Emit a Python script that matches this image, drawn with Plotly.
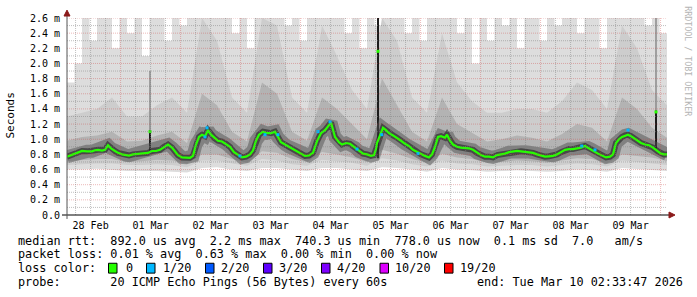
import pandas as pd
import plotly.graph_objects as go

START = pd.Timestamp("2026-02-28 02:33:47")
END = pd.Timestamp("2026-03-10 02:33:47")

# ---------------- data (ms) ----------------
median_hours = [0, 2, 3.2, 4.8, 6, 8, 10, 11.2, 12.4, 14, 15.2, 16.4, 17.6, 19.2, 20.4, 22, 23.6, 24.8, 26.4, 28,
                30, 31.6, 32.4, 34, 35.6, 37.2, 38.8, 40.4, 42, 43.2, 44.4, 46, 47.6, 49.2, 50.4, 51.6, 52.8, 54,
                55.2, 56.4, 57.6, 58.8, 60.4, 62, 63.6, 65.2, 66.8, 68.4, 70, 71.6, 73.2, 74.4, 75.6, 76.8, 78.4,
                80, 81.6, 83.2, 84.4, 85.6, 87.2, 88.8, 90.4, 92, 93.6, 95.2, 96.8, 98.4, 100, 101.6, 103.2, 104.8,
                105.6, 107.2, 108.8, 110, 111.6, 113.2, 115.2, 116.8, 118.4, 120, 121.6, 122.8, 123.6, 124, 125.2,
                126.4, 127.6, 128.8, 130.4, 132, 133.6, 135.2, 136.8, 138.4, 140, 141.6, 143.2, 144.8, 146, 147.2,
                148.4, 149.6, 151.2, 152, 153.2, 154.4, 156, 157.6, 159.2, 160.8, 162.4, 164, 165.6, 167.2, 168.8,
                170.4, 172, 173.6, 175.2, 176.8, 178.4, 180, 181.6, 183.2, 184.8, 186.4, 188, 189.6, 191.2, 192.8,
                194.4, 196, 197.6, 199.2, 200.8, 202.4, 204, 205.6, 207.2, 208.4, 209.6, 210.8, 212.4, 214, 215.6,
                217.2, 218.4, 219.6, 220.8, 222, 223.2, 224.4, 225.6, 226.8, 228, 229.6, 231.2, 232.8, 234.4, 236.4,
                237.6, 238.8, 240]
median_ms = [0.77, 0.79, 0.81, 0.83, 0.845, 0.84, 0.84, 0.855, 0.86, 0.85, 0.86, 0.92, 0.88, 0.845, 0.82, 0.80,
             0.79, 0.785, 0.80, 0.805, 0.81, 0.815, 0.82, 0.845, 0.845, 0.86, 0.90, 0.93, 0.89, 0.84, 0.79, 0.76,
             0.755, 0.755, 0.78, 0.93, 1.03, 1.06, 1.04, 1.12, 1.06, 1.02, 0.98, 0.97, 0.94, 0.90, 0.83, 0.79,
             0.76, 0.77, 0.80, 0.85, 0.98, 1.06, 1.10, 1.08, 1.08, 1.10, 1.02, 0.96, 0.93, 0.90, 0.87, 0.83, 0.80,
             0.78, 0.785, 0.82, 0.975, 1.08, 1.12, 1.18, 1.22, 1.03, 0.96, 0.93, 0.95, 0.94, 0.89, 0.84, 0.81,
             0.80, 0.78, 0.79, 0.87, 0.95, 1.06, 1.15, 1.12, 1.08, 1.05, 1.02, 0.98, 0.94, 0.91, 0.86, 0.83, 0.80,
             0.78, 0.76, 0.80, 0.90, 1.03, 1.04, 1.02, 1.06, 0.98, 0.93, 0.90, 0.89, 0.89, 0.88, 0.86, 0.82, 0.79,
             0.77, 0.77, 0.76, 0.79, 0.80, 0.81, 0.83, 0.84, 0.845, 0.84, 0.835, 0.83, 0.82, 0.80, 0.78, 0.77,
             0.775, 0.78, 0.80, 0.83, 0.86, 0.87, 0.87, 0.88, 0.89, 0.91, 0.89, 0.87, 0.84, 0.81, 0.78, 0.76, 0.77,
             0.80, 0.95, 1.00, 1.03, 1.05, 1.06, 1.04, 1.01, 0.98, 0.95, 0.93, 0.92, 0.89, 0.84, 0.81, 0.80, 0.80]

# single-column outliers (median dot + dark smoke column)
spike_hours = [33.2, 124.4, 235.6]
spike_median = [1.10, 2.16, 1.36]
spike_lo = [0.85, 0.75, 0.88]
spike_hi = [1.12, 2.70, 1.38]
# lighter upper part of the same columns
spike_top = [1.90, 2.70, 2.60]

# samples with 1/20 packet loss
loss1_hours = [55.2, 56.0, 69.2, 79.2, 84.4, 100.4, 105.2, 116.0, 125.9, 140.4, 205.9, 211.2, 224.4]
loss1_ms = [1.03, 1.15, 0.78, 1.06, 1.06, 1.10, 1.23, 0.87, 1.06, 0.81, 0.91, 0.86, 1.12]

# smoke (ping spread), sampled every 6 hours
smoke_min = [0.60, 0.60, 0.61, 0.60, 0.58, 0.58, 0.58, 0.57, 0.56, 0.62, 0.63, 0.60, 0.58, 0.62, 0.62, 0.60,
             0.58, 0.62, 0.62, 0.60, 0.58, 0.63, 0.62, 0.60, 0.57, 0.62, 0.60, 0.59, 0.57, 0.58, 0.59, 0.58,
             0.57, 0.58, 0.60, 0.59, 0.57, 0.62, 0.61, 0.60, 0.58]
smoke_lo2 = [0.66, 0.67, 0.68, 0.68, 0.66, 0.66, 0.67, 0.66, 0.63, 0.72, 0.72, 0.68, 0.65, 0.74, 0.72, 0.67,
             0.65, 0.73, 0.71, 0.69, 0.65, 0.75, 0.72, 0.67, 0.64, 0.72, 0.68, 0.67, 0.64, 0.65, 0.66, 0.66,
             0.64, 0.66, 0.68, 0.67, 0.64, 0.72, 0.70, 0.68, 0.66]
smoke_lo3 = [0.71, 0.73, 0.74, 0.74, 0.70, 0.71, 0.73, 0.72, 0.68, 0.80, 0.80, 0.74, 0.69, 0.84, 0.82, 0.74,
             0.70, 0.83, 0.80, 0.76, 0.70, 0.86, 0.81, 0.74, 0.69, 0.81, 0.76, 0.74, 0.69, 0.70, 0.72, 0.71,
             0.69, 0.72, 0.75, 0.74, 0.68, 0.80, 0.78, 0.76, 0.71]
smoke_hi3 = [0.98, 1.03, 1.05, 1.10, 0.97, 0.98, 1.05, 1.10, 0.95, 1.60, 1.45, 1.10, 0.97, 1.75, 1.60, 1.10,
             0.98, 1.55, 1.40, 1.20, 1.00, 1.80, 1.45, 1.10, 0.97, 1.55, 1.20, 1.08, 0.97, 1.00, 1.05, 1.02,
             0.97, 1.07, 1.20, 1.15, 0.97, 1.55, 1.40, 1.15, 1.02]
smoke_hi2 = [1.30, 1.35, 1.40, 1.55, 1.30, 1.30, 1.45, 1.55, 1.35, 2.60, 2.30, 1.55, 1.35, 2.60, 2.50, 1.55,
             1.35, 2.50, 2.10, 1.65, 1.40, 2.60, 2.30, 1.55, 1.35, 2.40, 1.75, 1.50, 1.35, 1.35, 1.40, 1.40,
             1.35, 1.50, 1.75, 1.65, 1.40, 2.50, 2.20, 1.65, 1.45]
# highest ping, sampled every 3 hours (values above 2.6 are clipped)
smoke_max = [1.75, 2.0, 2.7, 2.3, 2.7, 2.7, 2.2, 2.7, 2.4, 2.7, 2.1, 2.7, 2.7, 2.3, 2.7, 2.5, 2.7, 2.7, 2.7,
             2.7, 2.7, 2.7, 2.4, 2.7, 2.2, 2.7, 2.7, 2.7, 2.7, 2.5, 2.7, 2.3, 2.7, 2.7, 2.7, 2.7, 2.7, 2.4, 2.7,
             2.2, 2.7, 2.5, 2.7, 2.7, 2.7, 2.4, 2.7, 2.3, 2.7, 2.7, 2.7, 2.7, 2.4, 2.7, 2.0, 2.7, 2.3, 2.7, 2.5,
             2.7, 2.2, 2.7, 2.7, 2.3, 2.7, 2.5, 2.7, 2.7, 2.4, 2.7, 2.7, 2.2, 2.7, 2.7, 2.7, 2.7, 2.7, 2.5, 2.7,
             2.4, 2.2]

y_ticks = [0.0, 0.2, 0.4, 0.6, 0.8, 1.0, 1.2, 1.4, 1.6, 1.8, 2.0, 2.2, 2.4, 2.6]
y_ticktext = ["0.0"] + [f"{v:.1f} m" for v in y_ticks[1:]]
day_labels = ["28 Feb", "01 Mar", "02 Mar", "03 Mar", "04 Mar", "05 Mar", "06 Mar", "07 Mar", "08 Mar", "09 Mar"]

legend_line1 = "median rtt:  892.0 us avg  2.2 ms max  740.3 us min  778.0 us now  0.1 ms sd  7.0   am/s"
legend_line2 = "packet loss: 0.01 % avg  0.63 % max  0.00 % min  0.00 % now"
legend_line3 = "loss color:"
legend_line4 = "probe:       20 ICMP Echo Pings (56 Bytes) every 60s"
legend_end = "end: Tue Mar 10 02:33:47 2026"
loss_labels = ["0", "1/20", "2/20", "3/20", "4/20", "10/20", "19/20"]
loss_colors = ["#26ff00", "#00b8ff", "#0059ff", "#5e00ff", "#7e00ff", "#dd00ff", "#ff0000"]

# ---------------- figure ----------------
def hrs(hlist):
    return [START + pd.Timedelta(hours=h) for h in hlist]

t6 = hrs(range(0, 241, 6))
t3 = hrs(range(0, 241, 3))
t_med = hrs(median_hours)

fig = go.Figure()
common = dict(hoverinfo="skip", showlegend=False)

fig.add_trace(go.Scatter(x=t6, y=smoke_min, mode="lines", line=dict(width=0), **common))
fig.add_trace(go.Scatter(x=t3, y=smoke_max, mode="lines", line=dict(width=0, shape="hv"),
                         fill="tonexty", fillcolor="#dddddd", **common))
fig.add_trace(go.Scatter(x=t6, y=smoke_lo2, mode="lines", line=dict(width=0), **common))
fig.add_trace(go.Scatter(x=t6, y=smoke_hi2, mode="lines", line=dict(width=0),
                         fill="tonexty", fillcolor="#cdcdcd", **common))
fig.add_trace(go.Scatter(x=t6, y=smoke_lo3, mode="lines", line=dict(width=0), **common))
fig.add_trace(go.Scatter(x=t6, y=smoke_hi3, mode="lines", line=dict(width=0),
                         fill="tonexty", fillcolor="#b3b3b3", **common))

# outlier columns: light upper part, then dark core
ux, uy, sx, sy = [], [], [], []
for t, lo, hi, top in zip(hrs(spike_hours), spike_lo, spike_hi, spike_top):
    ux += [t, t, None]
    uy += [hi, top, None]
    sx += [t, t, None]
    sy += [lo, hi, None]
fig.add_trace(go.Scatter(x=ux, y=uy, mode="lines", line=dict(color="#8a8a8a", width=1.5), **common))
fig.add_trace(go.Scatter(x=sx, y=sy, mode="lines", line=dict(color="#1c1c1c", width=2), **common))

fig.add_trace(go.Scatter(x=t_med, y=median_ms, mode="lines",
                         line=dict(color="rgba(80,80,80,0.5)", width=13), **common))
fig.add_trace(go.Scatter(x=t_med, y=median_ms, mode="lines",
                         line=dict(color="rgba(35,35,35,0.6)", width=6), **common))
fig.add_trace(go.Scatter(x=t_med, y=median_ms, mode="lines",
                         line=dict(color=loss_colors[0], width=2.2), **common))
fig.add_trace(go.Scatter(x=hrs(loss1_hours), y=loss1_ms, mode="markers",
                         marker=dict(symbol="square", size=3, color=loss_colors[1], line=dict(width=0)), **common))
fig.add_trace(go.Scatter(x=hrs(spike_hours), y=spike_median, mode="markers",
                         marker=dict(symbol="square", size=3, color=loss_colors[0], line=dict(width=0)), **common))

# ---------------- layout helpers ----------------
L, R, T, B = 67, 667, 15, 215
W, H = 697, 297

def px(xp):
    return (xp - L) / (R - L)

def py(yp):
    return (B - yp) / (B - T)

shapes = []
# grid drawn over the smoke, like RRDtool
minor_col = "rgba(130,130,130,0.5)"
major_col = "rgba(205,70,70,0.38)"
for i in range(1, 27):
    v = i * 0.1
    shapes.append(dict(type="line", xref="paper", yref="y", x0=0, x1=1, y0=v, y1=v, layer="above",
                       line=dict(color=major_col if i % 2 == 0 else minor_col, width=1, dash="1px,1px")))
for t in pd.date_range("2026-02-28 06:00", "2026-03-10 00:00", freq="6h"):
    if t <= START or t >= END:
        continue
    major = t.hour == 0
    shapes.append(dict(type="line", xref="x", yref="paper", x0=t, x1=t, y0=0, y1=1, layer="above",
                       line=dict(color=major_col if major else minor_col, width=1, dash="1px,1px")))
# axes lines
shapes.append(dict(type="line", xref="paper", yref="paper", x0=px(62), x1=px(670), y0=0, y1=0, layer="above",
                   line=dict(color="#000000", width=1)))
shapes.append(dict(type="line", xref="paper", yref="paper", x0=0, x1=0, y0=py(219), y1=py(10), layer="above",
                   line=dict(color="#555555", width=1)))
# arrows
arrow_col = "#8b1a1a"
shapes.append(dict(type="path", xref="paper", yref="paper", layer="above", fillcolor=arrow_col,
                   line=dict(color=arrow_col, width=1),
                   path=f"M {px(64)},{py(13)} L {px(70)},{py(13)} L {px(67)},{py(7)} Z"))
shapes.append(dict(type="path", xref="paper", yref="paper", layer="above", fillcolor=arrow_col,
                   line=dict(color=arrow_col, width=1),
                   path=f"M {px(669)},{py(212)} L {px(669)},{py(218)} L {px(675)},{py(215)} Z"))

mono = "DejaVu Sans Mono"
annotations = []
leg_font = dict(family=mono, size=11.8, color="#000000")

def nb(s):
    return s.replace(" ", "\u00a0")

for text, ypix in [(legend_line1, 241), (legend_line2, 255), (legend_line3, 269), (legend_line4, 283)]:
    annotations.append(dict(text=nb(text), xref="paper", yref="paper", x=px(16), y=py(ypix),
                            xanchor="left", yanchor="middle", showarrow=False, font=leg_font))
annotations.append(dict(text=nb(legend_end), xref="paper", yref="paper", x=px(685), y=py(283),
                        xanchor="right", yanchor="middle", showarrow=False, font=leg_font))

sq_left = [108.5, 146.5, 205.5, 263.5, 321.5, 380, 444.5]
lab_left = [124, 161, 219, 277, 335, 393, 458]
for c, lab, sxp, lx in zip(loss_colors, loss_labels, sq_left, lab_left):
    shapes.append(dict(type="rect", xref="paper", yref="paper", x0=px(sxp), x1=px(sxp + 8.5),
                       y0=py(264), y1=py(274), fillcolor=c, line=dict(color="#000000", width=1), layer="above"))
    annotations.append(dict(text=nb(lab), xref="paper", yref="paper", x=px(lx), y=py(269),
                            xanchor="left", yanchor="middle", showarrow=False, font=leg_font))

annotations.append(dict(text="Seconds", xref="paper", yref="paper", x=px(11), y=py(114),
                        xanchor="center", yanchor="middle", textangle=-90, showarrow=False,
                        font=dict(family=mono, size=11, color="#000000")))
annotations.append(dict(text=nb("RRDTOOL / TOBI OETIKER"), xref="paper", yref="paper", x=px(688), y=py(59),
                        xanchor="center", yanchor="middle", textangle=90, showarrow=False,
                        font=dict(family=mono, size=8.3, color="#b4b4b4")))

noon = [pd.Timestamp("2026-02-28 12:00") + pd.Timedelta(days=i) for i in range(len(day_labels))]

fig.update_layout(
    width=W, height=H,
    margin=dict(l=L, r=W - R, t=T, b=H - B, pad=0),
    paper_bgcolor="#ffffff", plot_bgcolor="#ffffff",
    showlegend=False,
    shapes=shapes,
    annotations=annotations,
    xaxis=dict(type="date", range=[START, END], showgrid=False, zeroline=False, showline=False,
               tickmode="array", tickvals=noon, ticktext=day_labels, ticks="",
               tickfont=dict(family=mono, size=10, color="#000000"), ticklabelstandoff=3, fixedrange=True),
    yaxis=dict(range=[0, 2.6], showgrid=False, zeroline=False, showline=False,
               tickmode="array", tickvals=y_ticks, ticktext=y_ticktext, ticks="",
               tickfont=dict(family=mono, size=10, color="#000000"), ticklabelstandoff=6, fixedrange=True),
)

fig.write_html("out.html")
